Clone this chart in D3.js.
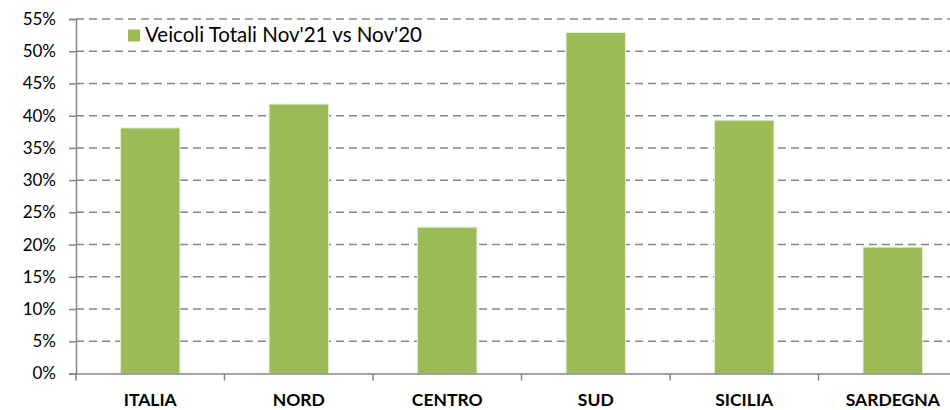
<!DOCTYPE html>
<html>
<head>
<meta charset="utf-8">
<style>
  body { margin: 0; background: #fff; }
  svg text { font-family: Lato, "Open Sans", sans-serif; fill: #000; }
</style>
</head>
<body>
<div id="chart"></div>
<script src="https://d3js.org/d3.v7.min.js"></script>
<script>
// regions and growth Nov'21 vs Nov'20 (percent)
var categories = ["ITALIA", "NORD", "CENTRO", "SUD", "SICILIA", "SARDEGNA"];
var values = [38.1, 41.8, 22.7, 52.9, 39.3, 19.6];
var yTicks = [0, 5, 10, 15, 20, 25, 30, 35, 40, 45, 50, 55];
var seriesName = "Veicoli Totali Nov'21 vs Nov'20";

var width = 950, height = 410;
var plotLeft = 76, plotTop = 19, plotBottom = 373.5;
var plotRight = 967; // last category is cut by the picture edge

var svg = d3.select("#chart").append("svg")
  .attr("width", width)
  .attr("height", height);

var x = d3.scaleBand()
  .domain(categories)
  .range([plotLeft, plotRight])
  .padding(0);

var y = d3.scaleLinear()
  .domain([0, 55])
  .range([plotBottom, plotTop]);

// dashed gridlines
svg.append("g")
  .selectAll("line")
  .data(yTicks.slice(1))
  .enter().append("line")
  .attr("x1", plotLeft)
  .attr("x2", width)
  .attr("y1", function(d) { return y(d); })
  .attr("y2", function(d) { return y(d); })
  .style("stroke", "#868686")
  .style("stroke-width", 1.5)
  .style("stroke-dasharray", "8,5");

// bars
var barW = x.bandwidth() * 0.4;
svg.append("g")
  .selectAll("rect")
  .data(values)
  .enter().append("rect")
  .attr("x", function(d, i) { return x(categories[i]) + (x.bandwidth() - barW) / 2; })
  .attr("y", function(d) { return y(d); })
  .attr("width", barW)
  .attr("height", function(d) { return plotBottom - y(d); })
  .style("fill", "#9BBB59")
  .style("stroke", "#e4edd2")
  .style("stroke-width", 1);

// y axis
var yAxis = svg.append("g")
  .attr("transform", "translate(" + plotLeft + ",0)")
  .call(d3.axisLeft(y).tickValues(yTicks).tickSize(7).tickPadding(13)
    .tickFormat(function(d) { return d + "%"; }));
yAxis.select(".domain").style("stroke", "#868686").style("stroke-width", 1.5);
yAxis.selectAll(".tick line").style("stroke", "#868686").style("stroke-width", 1.5);
yAxis.selectAll("text").style("font-size", "17px").attr("fill", "#000");

// x axis
var xAxis = svg.append("g")
  .attr("transform", "translate(0," + plotBottom + ")")
  .call(d3.axisBottom(x).tickSize(0).tickPadding(20));
xAxis.select(".domain").style("stroke", "#868686").style("stroke-width", 1.5);
xAxis.selectAll("text").style("font-size", "17.5px").style("font-weight", "bold").attr("fill", "#000");

// category boundary tick marks
svg.append("g")
  .selectAll("line")
  .data(categories)
  .enter().append("line")
  .attr("x1", function(d) { return x(d); })
  .attr("x2", function(d) { return x(d); })
  .attr("y1", plotBottom)
  .attr("y2", plotBottom + 7)
  .style("stroke", "#868686")
  .style("stroke-width", 1.5);

// legend
var legend = svg.append("g").attr("transform", "translate(128,29.5)");
legend.append("rect")
  .attr("width", 12)
  .attr("height", 12)
  .style("fill", "#9BBB59");
legend.append("text")
  .attr("x", 17)
  .attr("y", 12.5)
  .style("font-size", "20.5px")
  .text(seriesName);
</script>
</body>
</html>
